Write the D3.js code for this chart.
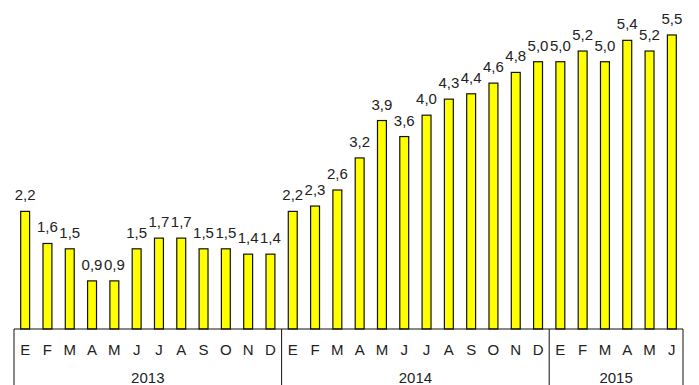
<!DOCTYPE html>
<html>
<head>
<meta charset="utf-8">
<script src="https://d3js.org/d3.v7.min.js"></script>
<style>
  body { margin: 0; background: #fff; }
  svg text { font-family: "Liberation Sans", Arial, sans-serif; fill: #222; }
</style>
</head>
<body>
<div id="chart"></div>
<script>
// month initials and yearly groups
var months = ["E","F","M","A","M","J","J","A","S","O","N","D",
              "E","F","M","A","M","J","J","A","S","O","N","D",
              "E","F","M","A","M","J"];
var years = ["2013", "2014", "2015"];
var yearCounts = [12, 12, 6];
var values = [2.2, 1.6, 1.5, 0.9, 0.9, 1.5, 1.7, 1.7, 1.5, 1.5, 1.4, 1.4,
              2.2, 2.3, 2.6, 3.2, 3.9, 3.6, 4.0, 4.3, 4.4, 4.6, 4.8, 5.0,
              5.0, 5.2, 5.0, 5.4, 5.2, 5.5];

var width = 699, height = 385;
var left = 14, right = 683, baseY = 329;

var svg = d3.select('#chart').append('svg')
  .attr('width', width)
  .attr('height', height);

var x = d3.scaleBand()
  .domain(d3.range(values.length))
  .range([left, right])
  .paddingInner(0.6)
  .paddingOuter(0.3);

var y = d3.scaleLinear()
  .domain([0, 5.5])
  .range([baseY, 35]);

var fmt = function (v) { return d3.format('.1f')(v).replace('.', ','); };

// bars
svg.selectAll('rect.bar')
  .data(values)
  .enter().append('rect')
  .attr('class', 'bar')
  .attr('x', function (d, i) { return x(i); })
  .attr('y', function (d) { return y(d); })
  .attr('width', x.bandwidth())
  .attr('height', function (d) { return baseY - y(d); })
  .attr('fill', '#ffff00')
  .attr('stroke', '#111')
  .attr('stroke-width', 1.2);

// value labels
svg.selectAll('text.val')
  .data(values)
  .enter().append('text')
  .attr('class', 'val')
  .attr('x', function (d, i) { return x(i) + x.bandwidth() / 2; })
  .attr('y', function (d) { return y(d) - 11; })
  .attr('text-anchor', 'middle')
  .style('font-size', '15px')
  .text(fmt);

// baseline
svg.append('line')
  .attr('x1', left).attr('x2', right)
  .attr('y1', baseY).attr('y2', baseY)
  .attr('stroke', '#111').attr('stroke-width', 1);

// month labels
svg.selectAll('text.month')
  .data(months)
  .enter().append('text')
  .attr('class', 'month')
  .attr('x', function (d, i) { return x(i) + x.bandwidth() / 2; })
  .attr('y', 355)
  .attr('text-anchor', 'middle')
  .style('font-size', '15px')
  .text(function (d) { return d; });

// year groups
var starts = [0];
yearCounts.forEach(function (c, i) { starts.push(starts[i] + c); });
var edgeX = function (k) { return left + k * (right - left) / values.length; };

starts.forEach(function (s) {
  svg.append('line')
    .attr('x1', edgeX(s)).attr('x2', edgeX(s))
    .attr('y1', baseY).attr('y2', height)
    .attr('stroke', '#111').attr('stroke-width', 1);
});

years.forEach(function (yr, i) {
  svg.append('text')
    .attr('x', (edgeX(starts[i]) + edgeX(starts[i + 1])) / 2)
    .attr('y', 383)
    .attr('text-anchor', 'middle')
    .style('font-size', '15px')
    .text(yr);
});
</script>
</body>
</html>
